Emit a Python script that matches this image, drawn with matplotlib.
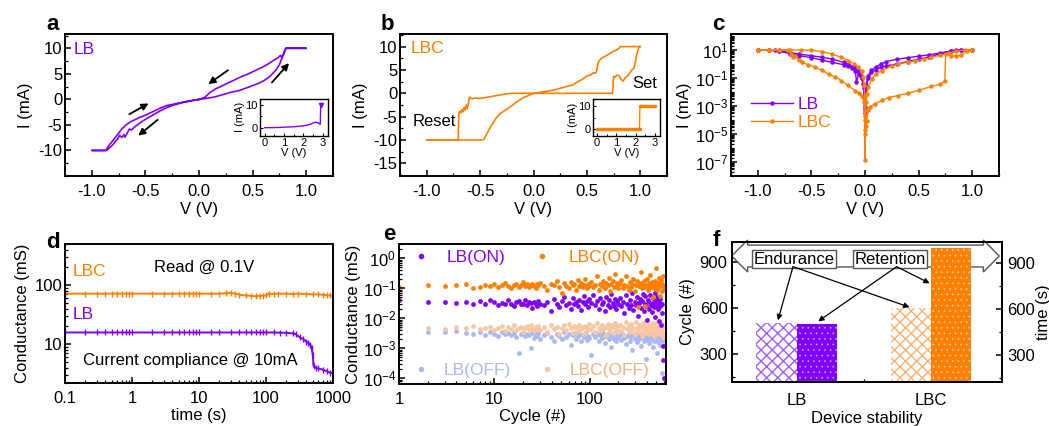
import numpy as np
import matplotlib
matplotlib.use("Agg")
import matplotlib.pyplot as plt
from matplotlib import ticker
from matplotlib.lines import Line2D
from matplotlib.patches import Polygon

# ---------------------------------------------------------------- colours
PURPLE = "#8000ff"
ORANGE = "#ff8000"
LB_OFF_COLOR = "#aab8f2"
LBC_OFF_COLOR = "#f8c6a0"
LB_HATCH = "#a35cff"
LBC_HATCH = "#ffb070"

# ---------------------------------------------------------------- (a) LB I-V loop
lb_v = [0, 0.05, 0.1, 0.15, 0.2, 0.25, 0.3, 0.37, 0.45, 0.5, 0.55, 0.6, 0.65, 0.68, 0.72, 0.75, 0.77, 0.79, 0.81, 0.85, 0.9, 0.95, 1.0,
        0.95, 0.9, 0.85, 0.81, 0.8, 0.79, 0.77, 0.76, 0.74, 0.7, 0.65, 0.6, 0.55, 0.5, 0.45, 0.4, 0.35, 0.3, 0.25, 0.2, 0.15, 0.1, 0.07, 0.05, 0,
        -0.05, -0.1, -0.15, -0.2, -0.25, -0.3, -0.35, -0.4, -0.45, -0.5, -0.55, -0.6, -0.63, -0.65, -0.67, -0.69, -0.7, -0.72, -0.74, -0.76, -0.78, -0.8, -0.83, -0.86, -0.88, -0.9, -0.95, -1.0,
        -0.95, -0.9, -0.87, -0.84, -0.8, -0.76, -0.72, -0.68, -0.64, -0.6, -0.55, -0.5, -0.45, -0.4, -0.35, -0.3, -0.25, -0.2, -0.15, -0.1, -0.05, 0]
lb_i = [0, 0.15, 0.3, 0.5, 0.8, 1.1, 1.4, 1.7, 2.3, 2.7, 3.1, 3.6, 4.3, 4.9, 5.8, 6.8, 7.9, 8.8, 10, 10, 10, 10, 10,
        10, 10, 10, 10, 9.6, 9.0, 8.3, 8.6, 8.2, 7.7, 7.0, 6.4, 5.9, 5.4, 4.9, 4.5, 4.0, 3.5, 3.0, 2.5, 2.0, 1.3, 0.7, 0.35, 0,
        -0.2, -0.4, -0.6, -0.9, -1.2, -1.6, -2.1, -2.7, -3.3, -3.9, -4.6, -5.4, -6.0, -5.8, -6.6, -7.4, -6.9, -7.5, -7.0, -7.8, -8.2, -8.8, -9.4, -10, -10, -10, -10, -10,
        -10, -10, -10, -9.0, -8.0, -6.9, -5.8, -5.0, -4.4, -4.0, -3.5, -3.1, -2.6, -2.1, -1.6, -1.2, -1.0, -0.75, -0.55, -0.35, -0.15, 0]

# forming sweep of LB (inset)
lb_form_v = [0, 0.25, 0.5, 0.75, 1.0, 1.25, 1.5, 1.75, 2.0, 2.2, 2.4, 2.55, 2.65, 2.75, 2.85, 2.88, 2.9]
lb_form_i = [0, 0, 0.05, 0.1, 0.2, 0.3, 0.4, 0.6, 0.8, 1.1, 1.6, 2.2, 2.4, 2.2, 1.6, 1.5, 10]

# ---------------------------------------------------------------- (b) LBC I-V loop
lbc_v = [0, 0.25, 0.5, 0.74, 0.75, 0.76, 0.78, 0.80, 0.82, 0.84, 0.86, 0.88, 0.90, 0.92, 0.94, 0.95, 0.96, 0.97, 0.98, 0.99, 1.0,
         0.9, 0.81, 0.8, 0.77, 0.74, 0.7, 0.66, 0.63, 0.61, 0.6, 0.595, 0.58, 0.56, 0.54, 0.5, 0.45, 0.4, 0.37, 0.3, 0.19, 0.1, 0,
         -0.1, -0.155, -0.2, -0.25, -0.31, -0.35, -0.4, -0.44, -0.465, -0.5, -0.6, -0.7, -0.8, -0.9, -1.0,
         -0.9, -0.8, -0.705, -0.70, -0.69, -0.68, -0.67, -0.66, -0.65, -0.64, -0.63, -0.62, -0.61, -0.6, -0.59, -0.575, -0.55, -0.5, -0.45, -0.4, -0.35, -0.3, -0.25, -0.2, -0.1, 0]
lbc_i = [0, 0, 0, 0, 3.6, 3.4, 3.9, 3.8, 3.0, 2.6, 3.4, 3.7, 4.3, 5.0, 5.3, 6.4, 7.5, 8.6, 9.4, 10, 10,
         10, 10, 9.6, 9.2, 8.9, 8.3, 7.8, 7.4, 6.8, 6.1, 5.0, 4.3, 4.4, 4.0, 3.7, 2.9, 2.3, 1.8, 1.4, 0.7, 0.35, 0,
         -1.0, -1.8, -2.6, -3.4, -4.3, -5.3, -7.1, -8.8, -9.9, -10, -10, -10, -10, -10, -10,
         -10, -10, -10, -4.5, -3.8, -4.2, -3.5, -4.0, -3.0, -3.6, -2.5, -3.3, -2.2, -0.8, -1.0, -1.2, -1.0, -1.1, -0.9, -0.7, -0.5, -0.3, -0.1, 0, 0, 0]

# forming sweep of LBC (inset)
lbc_form_v = [0.0, 0.1, 0.2, 0.3, 0.4, 0.5, 0.6, 0.7, 0.8, 0.9, 1.0, 1.1, 1.2, 1.3, 1.4, 1.5, 1.6, 1.7, 1.8, 1.9, 2.0, 2.1, 2.2,
              2.22, 2.3, 2.4, 2.5, 2.6, 2.7, 2.8, 2.9, 3.0]
lbc_form_i = [0, 0, 0, 0, 0, 0, 0, 0, 0, 0, 0, 0, 0, 0, 0, 0, 0, 0, 0, 0, 0, 0, 0,
              10, 10, 10, 10, 10, 10, 10, 10, 10]

# ---------------------------------------------------------------- (c) |I| on log scale
abs_lb_v = [0.002, 0.01, 0.03, 0.06, 0.1, 0.15, 0.2, 0.3, 0.4, 0.5, 0.6, 0.7, 0.8, 0.85, 0.9, 1.0,
            1.0, 0.9, 0.8, 0.7, 0.6, 0.5, 0.4, 0.3, 0.2, 0.15, 0.1, 0.06, 0.03, 0.01, 0.003,
            -0.003, -0.015, -0.04, -0.062, -0.1, -0.155, -0.2, -0.31, -0.4, -0.5, -0.62, -0.7, -0.8, -0.84, -0.9, -1.0,
            -1.0, -0.9, -0.8, -0.7, -0.62, -0.5, -0.4, -0.31, -0.2, -0.155, -0.12, -0.09, -0.08, -0.06, -0.03, -0.01, -0.002]
abs_lb_i = [0.0005, 0.02, 0.1, 0.25, 0.4, 0.6, 0.75, 1.0, 1.5, 2.2, 3.2, 5.0, 8.5, 10, 10, 10,
            10, 10, 8.5, 6.0, 4.6, 3.6, 2.8, 2.2, 1.5, 1.0, 0.6, 0.35, 0.15, 0.03, 0.002,
            0.0003, 0.04, 0.15, 0.34, 0.6, 1.0, 1.3, 2.3, 3.0, 3.9, 5.2, 6.5, 8.5, 10, 10, 10,
            10, 10, 8.0, 5.5, 4.0, 2.8, 1.9, 1.3, 0.9, 0.76, 0.55, 0.34, 0.05, 0.2, 0.1, 0.02, 0.0008]

abs_lbc_v = [0.003, 0.008, 0.016, 0.03, 0.05, 0.093, 0.155, 0.22, 0.31, 0.4, 0.5, 0.62, 0.7, 0.745, 0.752, 0.8, 0.85, 0.9, 0.95, 1.0,
             1.0, 0.93, 0.85, 0.78, 0.7, 0.62, 0.55, 0.47, 0.4, 0.31, 0.25, 0.155, 0.1, 0.062, 0.03, 0.015, 0.008, 0.004, 0.002, 0.001,
             -0.001, -0.004, -0.008, -0.015, -0.03, -0.062, -0.1, -0.155, -0.22, -0.31, -0.4, -0.5, -0.6, -0.7, -0.8, -0.9, -1.0,
             -1.0, -0.9, -0.8, -0.72, -0.69, -0.67, -0.65, -0.62, -0.59, -0.53, -0.47, -0.4, -0.34, -0.28, -0.22, -0.16, -0.093, -0.06, -0.03, -0.01, -0.003]
abs_lbc_i = [1e-5, 4e-5, 9e-5, 5e-4, 9e-4, 1.4e-3, 2.5e-3, 4e-3, 5.6e-3, 8e-3, 1.3e-2, 2.5e-2, 3.5e-2, 6.5e-2, 5.1, 4.0, 3.5, 4.5, 8.0, 10,
             10, 10, 8.0, 5.8, 4.2, 3.0, 2.2, 1.74, 1.3, 1.0, 0.7, 0.34, 0.18, 0.085, 0.022, 0.007, 0.002, 2e-4, 2e-5, 1.3e-7,
             1e-4, 5e-3, 0.03, 0.11, 0.3, 0.59, 1.0, 1.74, 3.0, 5.2, 7.5, 10, 10, 10, 10, 10, 10,
             10, 10, 10, 10, 5.2, 3.0, 4.0, 2.0, 1.3, 0.9, 0.6, 0.35, 0.19, 0.12, 0.065, 0.03, 0.0126, 0.008, 0.0056, 0.002, 0.0005]

# ---------------------------------------------------------------- (d) retention
ret_t_lbc = [0.1, 0.2, 0.3, 0.4, 0.5, 0.6, 0.7, 0.8, 0.9, 1, 2, 3, 4, 5, 6, 7, 8, 9, 10, 15, 20, 25, 30, 35, 40,
             50, 60, 70, 80, 90, 100, 110, 130, 150, 200, 250, 300, 400, 500, 600, 700, 800, 900, 1000]
ret_g_lbc = [72, 72, 72, 72, 72, 72, 72, 72, 72, 72, 72, 72, 72, 72, 72, 72, 72, 72, 72, 72, 72, 73, 74, 72, 69,
             67, 66, 65, 66, 66, 67, 72, 71, 72, 72, 71, 72, 71, 70, 70, 69, 68, 67, 66]
ret_t_lb = [0.1, 0.2, 0.3, 0.4, 0.5, 0.6, 0.7, 0.8, 0.9, 1, 2, 3, 4, 5, 6, 7, 8, 9, 10, 15, 20, 30, 40, 50, 60, 70, 80, 90, 100,
            130, 160, 200, 250, 280, 320, 360, 400, 430, 460, 480, 500, 510, 520, 550, 600, 700, 800, 900, 1000]
ret_g_lb = [15.8, 15.8, 15.8, 15.8, 15.8, 15.8, 15.8, 15.8, 15.8, 15.8, 15.8, 15.8, 15.8, 15.8, 15.8, 15.8, 15.8, 15.8, 15.8,
            15.8, 15.8, 15.8, 15.8, 15.8, 15.8, 15.8, 15.8, 15.8, 15.8,
            15.8, 15.7, 15.6, 15.3, 14.8, 13.0, 12.2, 11.0, 10.5, 9.8, 8.5, 6.5, 4.6, 4.2, 4.0, 3.9, 3.7, 3.5, 3.3, 3.2]

# ---------------------------------------------------------------- (e) endurance
cycles = (list(range(1, 31)) + list(range(33, 100, 3)) + list(range(104, 200, 5)) + list(range(207, 600, 8)))
lb_on = [0.041, 0.034, 0.036, 0.033, 0.035, 0.030, 0.038, 0.029, 0.042, 0.036, 0.028, 0.033, 0.031, 0.040, 0.030,
         0.026, 0.034, 0.037, 0.029, 0.030, 0.041, 0.027, 0.034, 0.032, 0.022, 0.036, 0.030, 0.025, 0.039, 0.031,
         0.028, 0.035, 0.018, 0.044, 0.030, 0.024, 0.038, 0.050, 0.027, 0.033, 0.021, 0.046, 0.031, 0.036, 0.026,
         0.041, 0.019, 0.034, 0.055, 0.029, 0.038, 0.024, 0.043,
         0.032, 0.060, 0.027, 0.039, 0.021, 0.047, 0.030, 0.035, 0.017, 0.052, 0.028, 0.041, 0.024, 0.064, 0.033,
         0.026, 0.045, 0.020, 0.037, 0.030,
         0.048, 0.025, 0.035, 0.015, 0.058, 0.031, 0.022, 0.042, 0.028, 0.070, 0.019, 0.036, 0.027, 0.050, 0.012,
         0.033, 0.045, 0.023, 0.038, 0.065, 0.018, 0.030, 0.054, 0.026, 0.009, 0.041, 0.034, 0.021, 0.060, 0.028,
         0.016, 0.046, 0.032, 0.024, 0.072, 0.011, 0.038, 0.027, 0.052, 0.020, 0.035, 0.008, 0.044, 0.025, 0.006,
         0.030, 0.015, 0.0012, 0.0004, 0.0001]
lbc_on = [0.107, 0.13, 0.12, 0.125, 0.135, 0.10, 0.115, 0.13, 0.12, 0.14, 0.11, 0.125, 0.15, 0.12, 0.105,
          0.13, 0.14, 0.115, 0.125, 0.16, 0.12, 0.135, 0.11, 0.13, 0.145, 0.12, 0.10, 0.14, 0.125, 0.155,
          0.12, 0.09, 0.14, 0.13, 0.17, 0.11, 0.068, 0.15, 0.12, 0.10, 0.16, 0.13, 0.14, 0.085, 0.19,
          0.12, 0.15, 0.11, 0.13, 0.21, 0.10, 0.14, 0.12,
          0.16, 0.11, 0.13, 0.25, 0.09, 0.14, 0.12, 0.18, 0.10, 0.15, 0.13, 0.22, 0.08, 0.14, 0.17,
          0.11, 0.30, 0.12, 0.15, 0.10,
          0.14, 0.19, 0.10, 0.13, 0.26, 0.12, 0.09, 0.16, 0.11, 0.14, 0.21, 0.08, 0.13, 0.17, 0.024,
          0.12, 0.15, 0.35, 0.10, 0.14, 0.18, 0.11, 0.025, 0.13, 0.20, 0.09, 0.15, 0.12, 0.28, 0.11,
          0.16, 0.13, 0.053, 0.10, 0.17, 0.14, 0.46, 0.12, 0.09, 0.15, 0.22, 0.11, 0.13, 0.055, 0.19,
          0.08, 0.14, 0.12, 0.25, 0.10]
lbc_off = [0.0068, 0.0049, 0.0045, 0.0050, 0.0047, 0.0055, 0.0043, 0.0048, 0.0052, 0.0040, 0.0046, 0.0055, 0.0038, 0.0050, 0.0044,
           0.0058, 0.0041, 0.0047, 0.0052, 0.0036, 0.0049, 0.0054, 0.0043, 0.0060, 0.0046, 0.0039, 0.0051, 0.0045, 0.0057, 0.0042,
           0.0050, 0.0035, 0.0062, 0.0044, 0.0053, 0.0030, 0.0048, 0.0058, 0.0041, 0.0067, 0.0046, 0.0033, 0.0054, 0.0049, 0.0038,
           0.0061, 0.0044, 0.0052, 0.0029, 0.0057, 0.0047, 0.0040, 0.0063,
           0.0045, 0.0055, 0.0034, 0.0070, 0.0048, 0.0039, 0.0060, 0.0043, 0.0052, 0.0028, 0.0066, 0.0046, 0.0037, 0.0058, 0.0050,
           0.0033, 0.0072, 0.0044, 0.0054, 0.0040,
           0.0062, 0.0038, 0.0050, 0.0027, 0.0075, 0.0045, 0.0056, 0.0034, 0.0064, 0.0042, 0.0049, 0.0031, 0.0078, 0.0047, 0.0039,
           0.0060, 0.0036, 0.0053, 0.0025, 0.0068, 0.0044, 0.0057, 0.0033, 0.0082, 0.0046, 0.0038, 0.0061, 0.0030, 0.0052, 0.0042,
           0.0070, 0.0035, 0.0055, 0.0026, 0.0065, 0.0043, 0.0049, 0.0032, 0.0076, 0.0040, 0.0058, 0.0029, 0.0051, 0.0037, 0.0067,
           0.0034, 0.0047, 0.0024, 0.0060, 0.0031]
lb_off = [0.0047, 0.0036, 0.0034, 0.0037, 0.0033, 0.0030, 0.0036, 0.0028, 0.0034, 0.0031, 0.0026, 0.0035, 0.0029, 0.0032, 0.0027,
          0.0033, 0.0024, 0.00068, 0.0030, 0.0034, 0.0025, 0.0031, 0.0028, 0.0010, 0.0033, 0.0022, 0.0030, 0.0026, 0.0032, 0.0021,
          0.0028, 0.0033, 0.0024, 0.0018, 0.0031, 0.0026, 0.0020, 0.0034, 0.0023, 0.0029, 0.0013, 0.0027, 0.0032, 0.0021, 0.0025,
          0.0030, 0.0017, 0.0028, 0.0023, 0.0033, 0.0019, 0.0026, 0.0022,
          0.00060, 0.0029, 0.0024, 0.0031, 0.0018, 0.0027, 0.0022, 0.0033, 0.0015, 0.0026, 0.0030, 0.0020, 0.0024, 0.0011, 0.0028,
          0.0021, 0.0032, 0.0017, 0.0025, 0.0023,
          0.0027, 0.0019, 0.0031, 0.0022, 0.0014, 0.0026, 0.0030, 0.0018, 0.0024, 0.00085, 0.0028, 0.0021, 0.0033, 0.0016, 0.0025,
          0.0020, 0.0029, 0.0012, 0.0023, 0.0027, 0.0017, 0.0031, 0.0022, 0.00045, 0.0026, 0.0019, 0.0024, 0.0015, 0.0030, 0.0021,
          0.0028, 0.0011, 0.0025, 0.0018, 0.0032, 0.0020, 0.0023, 0.00070, 0.0027, 0.0016, 0.0022, 0.0029, 0.0013, 0.0024, 0.0019,
          0.00015, 0.0026, 0.0017, 0.0021, 0.0012]

# ---------------------------------------------------------------- (f) stability summary
devices = ["LB", "LBC"]
endurance_cycles = [500, 600]
retention_time = [500, 1000]

# ---------------------------------------------------------------- style
plt.rcParams.update({
    "font.family": ["Liberation Sans", "DejaVu Sans"],
    "font.size": 12,
    "mathtext.default": "regular",
    "axes.unicode_minus": False,
    "axes.linewidth": 1.4,
    "axes.labelsize": 12,
    "xtick.labelsize": 12,
    "ytick.labelsize": 12,
    "xtick.direction": "in",
    "ytick.direction": "in",
    "xtick.major.size": 4,
    "ytick.major.size": 4,
    "xtick.minor.size": 2.2,
    "ytick.minor.size": 2.2,
    "xtick.major.width": 1.1,
    "ytick.major.width": 1.1,
    "xtick.minor.width": 0.9,
    "ytick.minor.width": 0.9,
    "hatch.linewidth": 1.0,
})

W, H = 1049, 426
fig = plt.figure(figsize=(W / 100, H / 100), dpi=100)


def rect(x0, y0, x1, y1):
    return [x0 / W, 1 - y1 / H, (x1 - x0) / W, (y1 - y0) / H]


def base_ticks(ax, xpad=6, ypad=2):
    ax.tick_params(which="both", direction="in", top=False, right=False)
    ax.tick_params(axis="x", which="both", pad=xpad)
    ax.tick_params(axis="y", which="both", pad=ypad)


def volt_axis(ax):
    ax.set_xlim(-1.25, 1.25)
    ax.xaxis.set_major_locator(ticker.FixedLocator([-1.0, -0.5, 0.0, 0.5, 1.0]))
    ax.xaxis.set_major_formatter(ticker.FormatStrFormatter("%.1f"))
    ax.xaxis.set_minor_locator(ticker.MultipleLocator(0.25))
    ax.set_xlabel("V (V)", labelpad=2)


def inset_style(ax):
    for s in ax.spines.values():
        s.set_linewidth(1.0)
    ax.tick_params(which="both", direction="in", top=False, right=False, labelsize=8, pad=1.5)
    ax.tick_params(which="major", length=2.5, width=0.8)
    ax.tick_params(which="minor", length=1.5, width=0.7)
    ax.set_xlim(-0.25, 3.28)
    ax.xaxis.set_major_locator(ticker.FixedLocator([0, 1, 2, 3]))
    ax.xaxis.set_minor_locator(ticker.MultipleLocator(0.5))
    ax.yaxis.set_major_locator(ticker.FixedLocator([0, 10]))
    ax.yaxis.set_minor_locator(ticker.MultipleLocator(5))
    ax.set_xlabel("V (V)", fontsize=8, labelpad=0.5)
    ax.set_ylabel("I (mA)", fontsize=8, labelpad=0.5)


arrow_kw = dict(arrowstyle="-|>", color="black", lw=1.3, mutation_scale=10, shrinkA=0, shrinkB=0)

# ================================================================ panel a
axa = fig.add_axes(rect(65, 34, 333, 176))
axa.plot(lb_v, lb_i, color=PURPLE, lw=1.2)
volt_axis(axa)
axa.set_ylim(-15, 12.8)
axa.yaxis.set_major_locator(ticker.FixedLocator([-10, -5, 0, 5, 10]))
axa.yaxis.set_minor_locator(ticker.MultipleLocator(2.5))
axa.set_ylabel("I (mA)", labelpad=4)
base_ticks(axa)
axa.text(-1.17, 9.7, "LB", color=PURPLE, fontsize=12.5, ha="left", va="center")
axa.annotate("", xy=(0.84, 7.1), xytext=(0.68, 3.3), arrowprops=arrow_kw)
axa.annotate("", xy=(0.087, 3.0), xytext=(0.27, 5.7), arrowprops=arrow_kw)
axa.annotate("", xy=(-0.47, -0.8), xytext=(-0.65, -2.9), arrowprops=arrow_kw)
axa.annotate("", xy=(-0.567, -7.1), xytext=(-0.386, -4.0), arrowprops=arrow_kw)

insa = fig.add_axes(rect(260, 99, 328, 135.7))
insa.plot(lb_form_v, lb_form_i, color=PURPLE, lw=1.0)
insa.plot(lb_form_v[-1:], lb_form_i[-1:], ls="none", marker="v", ms=3, color=PURPLE)
insa.set_ylim(-3.5, 12.5)
inset_style(insa)

# ================================================================ panel b
axb = fig.add_axes(rect(400, 34, 667, 176))
axb.plot(lbc_v, lbc_i, color=ORANGE, lw=1.2)
volt_axis(axb)
axb.set_ylim(-17.7, 12.7)
axb.yaxis.set_major_locator(ticker.FixedLocator([-15, -10, -5, 0, 5, 10]))
axb.yaxis.set_minor_locator(ticker.MultipleLocator(2.5))
axb.set_ylabel("I (mA)", labelpad=4)
base_ticks(axb)
axb.text(-1.15, 9.65, "LBC", color=ORANGE, fontsize=12.5, ha="left", va="center")
axb.text(1.04, 2.2, "Set", fontsize=12, ha="center", va="center")
axb.text(-0.93, -6.0, "Reset", fontsize=12, ha="center", va="center")

insb = fig.add_axes(rect(592.7, 99.3, 660, 135.7))
insb.plot(lbc_form_v, lbc_form_i, color=ORANGE, lw=1.0, marker="o", ms=1.6)
insb.set_ylim(-2.7, 12.9)
inset_style(insb)
insb.set_xlim(-0.22, 3.26)

# ================================================================ panel c
axc = fig.add_axes(rect(731, 34, 999, 176))
axc.plot(abs_lb_v, abs_lb_i, color=PURPLE, lw=1.0, marker="o", ms=2.2, label="LB")
axc.plot(abs_lbc_v, abs_lbc_i, color=ORANGE, lw=1.0, marker="o", ms=2.2, label="LBC")
volt_axis(axc)
axc.set_yscale("log")
axc.set_ylim(1e-8, 138)
axc.yaxis.set_major_locator(ticker.FixedLocator([1e1, 1e-1, 1e-3, 1e-5, 1e-7]))
axc.yaxis.set_major_formatter(ticker.LogFormatterSciNotation())
axc.yaxis.set_minor_locator(ticker.LogLocator(base=10, subs=np.arange(1, 10), numticks=40))
axc.yaxis.set_minor_formatter(ticker.NullFormatter())
axc.set_ylabel("I (mA)", labelpad=2)
base_ticks(axc)
axc.legend(loc="center left", bbox_to_anchor=(0.075, 0.44), frameon=False, handlelength=2.4,
           handletextpad=0.3, labelspacing=0.2, borderpad=0, borderaxespad=0,
           labelcolor="linecolor", fontsize=12.5, numpoints=1)

# ================================================================ panel d
axd = fig.add_axes(rect(65, 244, 333, 383))
axd.plot(ret_t_lbc, ret_g_lbc, color=ORANGE, lw=1.4, marker="|", ms=4, mew=1.0)
axd.plot(ret_t_lb, ret_g_lb, color=PURPLE, lw=1.4, marker="|", ms=4, mew=1.0)
axd.set_xscale("log")
axd.set_yscale("log")
axd.set_xlim(0.1, 1000)
axd.set_ylim(2.2, 500)
g_fmt = ticker.FuncFormatter(lambda v, p: f"{v:g}")
axd.xaxis.set_major_locator(ticker.FixedLocator([0.1, 1, 10, 100, 1000]))
axd.xaxis.set_major_formatter(g_fmt)
axd.xaxis.set_minor_locator(ticker.LogLocator(base=10, subs=np.arange(2, 10), numticks=40))
axd.xaxis.set_minor_formatter(ticker.NullFormatter())
axd.yaxis.set_major_locator(ticker.FixedLocator([10, 100]))
axd.yaxis.set_major_formatter(g_fmt)
axd.yaxis.set_minor_locator(ticker.LogLocator(base=10, subs=np.arange(2, 10), numticks=40))
axd.yaxis.set_minor_formatter(ticker.NullFormatter())
axd.set_xlabel("time (s)", labelpad=1)
axd.set_ylabel("Conductance (mS)", labelpad=3)
base_ticks(axd)
axd.text(0.03, 0.80, "LBC", color=ORANGE, fontsize=12.5, ha="left", va="center", transform=axd.transAxes)
axd.text(0.03, 0.49, "LB", color=PURPLE, fontsize=12.5, ha="left", va="center", transform=axd.transAxes)
axd.text(0.52, 0.83, "Read @ 0.1V", fontsize=12, ha="center", va="center", transform=axd.transAxes)
axd.text(0.467, 0.16, "Current compliance @ 10mA", fontsize=12, ha="center", va="center",
         transform=axd.transAxes)

# ================================================================ panel e
axe = fig.add_axes(rect(399, 244, 666, 384))
dot = dict(s=12, linewidths=0)
axe.scatter(cycles, lb_off, color=LB_OFF_COLOR, **dot)
axe.scatter(cycles, lbc_off, color=LBC_OFF_COLOR, **dot)
axe.scatter(cycles, lb_on, color=PURPLE, **dot)
axe.scatter(cycles, lbc_on, color=ORANGE, **dot)
axe.set_xscale("log")
axe.set_yscale("log")
axe.set_xlim(1, 630)
axe.set_ylim(10 ** -4.19, 10 ** 0.48)
axe.xaxis.set_major_locator(ticker.FixedLocator([1, 10, 100]))
axe.xaxis.set_major_formatter(g_fmt)
axe.xaxis.set_minor_locator(ticker.LogLocator(base=10, subs=np.arange(2, 10), numticks=40))
axe.xaxis.set_minor_formatter(ticker.NullFormatter())
axe.yaxis.set_major_locator(ticker.FixedLocator([1, 1e-1, 1e-2, 1e-3, 1e-4]))
axe.yaxis.set_major_formatter(ticker.LogFormatterSciNotation())
axe.yaxis.set_minor_locator(ticker.LogLocator(base=10, subs=np.arange(2, 10), numticks=40))
axe.yaxis.set_minor_formatter(ticker.NullFormatter())
axe.set_xlabel("Cycle (#)", labelpad=1)
axe.set_ylabel("Conductance (mS)", labelpad=1)
base_ticks(axe)


def dot_handle(c):
    return Line2D([], [], ls="none", marker="o", ms=4, color=c, mew=0)


leg_on = axe.legend([dot_handle(PURPLE), dot_handle(ORANGE)], ["LB(ON)", "LBC(ON)"],
                    loc="center left", bbox_to_anchor=(0.05, 0.905), ncol=2, frameon=False,
                    borderpad=0, borderaxespad=0, handlelength=1.0, handletextpad=1.0,
                    columnspacing=1.6, labelcolor=[PURPLE, ORANGE], fontsize=12.5)
axe.add_artist(leg_on)
axe.legend([dot_handle(LB_OFF_COLOR), dot_handle(LBC_OFF_COLOR)], ["LB(OFF)", "LBC(OFF)"],
           loc="center left", bbox_to_anchor=(0.05, 0.10), ncol=2, frameon=False,
           borderpad=0, borderaxespad=0, handlelength=1.0, handletextpad=0.8,
           columnspacing=1.6, labelcolor=[LB_OFF_COLOR, "#f0b07c"], fontsize=12.5)

# ================================================================ panel f
axf = fig.add_axes(rect(731.7, 241.7, 1001.7, 382))
axf2 = axf.twinx()
xpos = np.arange(len(devices))
bw = 0.3
axf.bar(xpos - bw / 2, endurance_cycles, bw, color="white", edgecolor=[LB_HATCH, LBC_HATCH],
        hatch="xxx", lw=0, zorder=2)
ret_bars = axf2.bar(xpos + bw / 2, retention_time, bw, color=[PURPLE, ORANGE],
                    edgecolor=(1, 1, 1, 0.55), hatch="...", lw=0, zorder=2)
for b in ret_bars:
    if hasattr(b, "set_hatch_linewidth"):
        b.set_hatch_linewidth(0.5)
axf.set_xlim(-0.484, 1.526)
axf.set_ylim(120.5, 1029.6)
axf2.set_ylim(123, 1041)
for ax in (axf, axf2):
    ax.yaxis.set_major_locator(ticker.FixedLocator([300, 600, 900]))
    ax.yaxis.set_minor_locator(ticker.MultipleLocator(150))
axf.set_xticks(xpos)
axf.set_xticklabels(devices)
axf.xaxis.set_minor_locator(ticker.FixedLocator([0.5]))
axf.tick_params(axis="x", which="major", length=0, pad=8)
axf.tick_params(axis="x", which="minor", direction="in")
axf.tick_params(axis="y", which="both", direction="in", left=True, right=False, pad=3)
axf2.tick_params(axis="y", which="both", direction="in", left=False, right=True, pad=4)
axf.set_xlabel("Device stability", labelpad=2)
axf.set_ylabel("Cycle (#)", labelpad=3)
axf2.set_ylabel("time (s)", labelpad=0.5)

# double-headed banner behind the labels
banner = Polygon([(0.0, 0.898), (0.059, 1.012), (0.059, 0.976), (0.932, 0.976), (0.932, 1.012),
                  (0.991, 0.898), (0.932, 0.784), (0.932, 0.820), (0.059, 0.820), (0.059, 0.784)],
                 closed=True, fill=False, ec="#555555", lw=1.0, transform=axf2.transAxes,
                 clip_on=False, zorder=1)
axf2.add_patch(banner)
box_kw = dict(boxstyle="square,pad=0.08", fc="white", ec="#555555", lw=1.0)
axf2.text(0.231, 0.875, "Endurance", transform=axf2.transAxes, ha="center", va="center",
          fontsize=12, bbox=box_kw, zorder=3)
axf2.text(0.588, 0.875, "Retention", transform=axf2.transAxes, ha="center", va="center",
          fontsize=12, bbox=box_kw, zorder=3)

thin_arrow = dict(arrowstyle="-|>", color="black", lw=0.9, mutation_scale=8, shrinkA=0, shrinkB=0)
axf2.annotate("", xy=(-0.14, 520), xycoords=axf.transData, xytext=(0.227, 0.822),
              textcoords="axes fraction", arrowprops=thin_arrow, zorder=4)
axf2.annotate("", xy=(0.84, 605), xycoords=axf.transData, xytext=(0.227, 0.822),
              textcoords="axes fraction", arrowprops=thin_arrow, zorder=4)
axf2.annotate("", xy=(0.16, 520), xycoords="data", xytext=(0.611, 0.822),
              textcoords="axes fraction", arrowprops=thin_arrow, zorder=4)
axf2.annotate("", xy=(0.99, 769), xycoords="data", xytext=(0.611, 0.822),
              textcoords="axes fraction", arrowprops=thin_arrow, zorder=4)

# ================================================================ panel letters
for letter, (px, py) in {"a": (46, 30), "b": (381, 30), "c": (712, 30),
                         "d": (46, 248), "e": (383, 240), "f": (713, 246)}.items():
    fig.text(px / W, 1 - py / H, letter, fontsize=16, fontweight="bold", ha="left", va="baseline")

fig.savefig("out.png", dpi=100)
